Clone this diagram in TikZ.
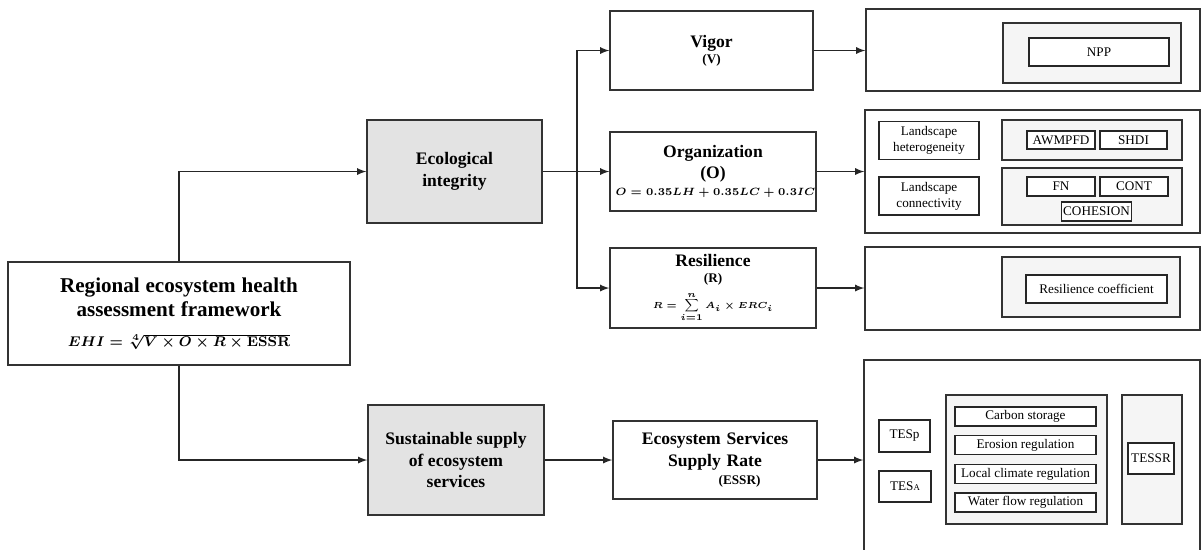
\documentclass[tikz,border=0pt]{standalone}
\usepackage{fontspec}
\setmainfont{Liberation Serif}
\usepackage{amsmath}
\usetikzlibrary{arrows,positioning,calc}

\begin{document}
\begin{tikzpicture}[x=0.02cm, y=-0.02cm,
  mainbox/.style={rectangle, draw=black!80, line width=0.8pt, fill=white,
                  align=center, inner sep=1pt},
  greybox/.style={mainbox, fill=black!11},
  outbox/.style={rectangle, draw=black!80, line width=0.8pt, fill=white},
  setbox/.style={rectangle, draw=black!80, line width=0.8pt, fill=black!4},
  itembox/.style={rectangle, draw=black!85, line width=0.8pt, fill=white,
                  align=center, inner sep=1pt, font=\fontsize{7.5}{9}\selectfont},
  ttl/.style={font=\fontsize{10}{12.5}\selectfont\bfseries},
  arr/.style={draw, line width=0.8pt, black!85, -latex}
]
\useasboundingbox (0,0) rectangle (1202,549);

%% left column
\node[mainbox, text width=6.5cm, minimum width=6.84cm, minimum height=2.06cm] (frame) at (179,313.5)
  {{\fontsize{12}{14}\selectfont\bfseries Regional ecosystem health\\
   assessment framework\par}\vspace{7pt}
   {\fontsize{8.5}{10}\selectfont\boldmath \mbox{$EHI=\sqrt[4]{V\times O\times R\times \mathbf{ESSR}}$}\par}};
\node[greybox, ttl, minimum width=3.5cm, minimum height=2.06cm] (integ) at (454.5,171.5)
  {Ecological\\integrity};
\node[greybox, ttl, minimum width=3.52cm, minimum height=2.2cm] (supply) at (456,460)
  {Sustainable supply\\of ecosystem\\services};

%% middle column
\node[mainbox, text width=3.9cm, minimum width=4.06cm, minimum height=1.58cm] (vigor) at (711.5,50.5)
  {{\fontsize{10}{12}\selectfont\bfseries Vigor\par}
   {\fontsize{7.5}{9}\selectfont\bfseries (V)\par}};
\node[mainbox, text width=3.9cm, minimum width=4.12cm, minimum height=1.58cm] (organ) at (713,171.5)
  {{\fontsize{10}{12}\selectfont\bfseries Organization\\(O)\par}\vspace{2pt}
   {\fontsize{6}{7.5}\selectfont\boldmath \mbox{$O=0.35LH+0.35LC+0.3IC$}\par}};
\node[mainbox, text width=3.9cm, minimum width=4.12cm, minimum height=1.6cm] (resil) at (713,288)
  {{\fontsize{10}{12}\selectfont\bfseries Resilience\par}
   {\fontsize{7.5}{9}\selectfont\bfseries (R)\par}\vspace{3pt}
   {\fontsize{5}{6}\selectfont\boldmath \mbox{$\displaystyle R=\sum_{i=1}^{n}A_i\times ERC_i$}\par}};
\node[mainbox, text width=3.9cm, minimum width=4.08cm, minimum height=1.56cm] (essr) at (715,460)
  {{\fontsize{10}{12.5}\selectfont\bfseries Ecosystem Services\\Supply Rate\par}\vspace{1pt}
   {\fontsize{7.5}{9}\selectfont\bfseries\hspace*{28pt}(ESSR)\par}};

%% right column: indicator panels
\node[outbox, minimum width=6.68cm, minimum height=1.64cm] (vpanel) at (1033,50) {};
\node[setbox, minimum width=3.56cm, minimum height=1.2cm] (vset) at (1092,53) {};
\node[itembox, minimum width=2.8cm, minimum height=0.56cm] (npp) at (1099,52) {NPP};

\node[outbox, minimum width=6.7cm, minimum height=2.46cm] (opanel) at (1032.5,171.5) {};
\node[itembox, minimum width=2.0cm, minimum height=0.76cm] (lh) at (929,140.5)
  {Landscape\\heterogeneity};
\node[itembox, minimum width=2.0cm, minimum height=0.76cm] (lc) at (929,196)
  {Landscape\\connectivity};
\node[setbox, minimum width=3.6cm, minimum height=0.8cm] (lhset) at (1092,140) {};
\node[itembox, minimum width=1.36cm, minimum height=0.36cm] (awmpfd) at (1061,140) {AWMPFD};
\node[itembox, minimum width=1.34cm, minimum height=0.36cm] (shdi) at (1133.5,140) {SHDI};
\node[setbox, minimum width=3.6cm, minimum height=1.14cm] (lcset) at (1092,196.5) {};
\node[itembox, minimum width=1.36cm, minimum height=0.38cm] (fn) at (1061,186.5) {FN};
\node[itembox, minimum width=1.36cm, minimum height=0.38cm] (cont) at (1134,186.5) {CONT};
\node[itembox, minimum width=1.38cm, minimum height=0.38cm] (cohes) at (1096.5,211.5) {COHESION};

\node[outbox, minimum width=6.7cm, minimum height=1.66cm] (rpanel) at (1032.5,288.5) {};
\node[setbox, minimum width=3.56cm, minimum height=1.2cm] (rset) at (1091,287) {};
\node[itembox, minimum width=2.82cm, minimum height=0.56cm] (rcoef) at (1096.5,289)
  {Resilience coefficient};

\node[outbox, minimum width=6.72cm, minimum height=3.96cm] (spanel) at (1032,459) {};
\node[itembox, minimum width=1.02cm, minimum height=0.64cm] (tesp) at (904.5,436) {TESp};
\node[itembox, minimum width=1.04cm, minimum height=0.62cm] (tesa) at (905,486.5)
  {TES{\fontsize{5}{6}\selectfont A}};
\node[setbox, minimum width=3.22cm, minimum height=2.58cm] (esset) at (1026.5,459.5) {};
\node[itembox, minimum width=2.82cm, minimum height=0.38cm] (carbon) at (1025.5,416.5) {Carbon storage};
\node[itembox, minimum width=2.82cm, minimum height=0.38cm] (erosion) at (1025.5,445) {Erosion regulation};
\node[itembox, minimum width=2.82cm, minimum height=0.38cm] (climate) at (1025.5,474) {Local climate regulation};
\node[itembox, minimum width=2.82cm, minimum height=0.38cm] (water) at (1025.5,502.5) {Water flow regulation};
\node[setbox, minimum width=1.2cm, minimum height=2.58cm] (ratset) at (1152,459.5) {};
\node[itembox, minimum width=0.92cm, minimum height=0.62cm] (tessr) at (1151,458.5) {TESSR};

%% connectors
\draw[arr] (frame.north) |- (integ.west);
\draw[arr] (frame.south) |- (supply.west);
\coordinate (fork) at (577,171.5);
\draw[arr] (integ.east) -- (organ.west);
\draw[arr] (fork) |- (vigor.west);
\draw[arr] (fork) |- (resil.west);
\draw[arr] (supply.east) -- (essr.west);

\draw[arr] (vigor.east) -- (vigor.east -| vpanel.west);
\draw[arr] (organ.east) -- (organ.east -| opanel.west);
\draw[arr] (resil.east) -- (resil.east -| rpanel.west);
\draw[arr] (essr.east) -- (essr.east -| spanel.west);

\end{tikzpicture}
\end{document}
